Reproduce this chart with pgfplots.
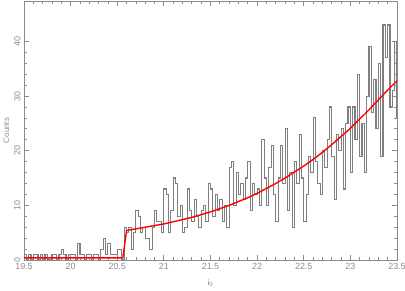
\documentclass[border=0pt]{standalone}
\usepackage{fontspec}
\setmainfont{Liberation Sans}
\usepackage{pgfplots}
\usepackage{pgfplotstable}
\pgfplotsset{compat=1.18}
\definecolor{axgray}{gray}{0.55}
\definecolor{histgray}{gray}{0.5}

\pgfplotstableread{
x y
19.500 1
19.525 0
19.550 1
19.575 0
19.600 1
19.625 1
19.650 0
19.675 1
19.700 0
19.725 1
19.750 0
19.775 0
19.800 1
19.825 1
19.850 0
19.875 1
19.900 2
19.925 1
19.950 0
19.975 1
20.000 1
20.025 1
20.050 0
20.075 3
20.100 1
20.125 1
20.150 0
20.175 1
20.200 1
20.225 0
20.250 1
20.275 1
20.300 0
20.325 2
20.350 4
20.375 1
20.400 3
20.425 1
20.450 1
20.475 1
20.500 2
20.525 2
20.550 0
20.575 6
20.600 5
20.625 6
20.650 2
20.675 5
20.700 9
20.725 8
20.750 5
20.775 6
20.800 4
20.825 4
20.850 2
20.875 6
20.900 9
20.925 7
20.950 7
20.975 5
21.000 13
21.025 12
21.050 5
21.075 9
21.100 15
21.125 14
21.150 8
21.175 10
21.200 5
21.225 6
21.250 13
21.275 9
21.300 7
21.325 11
21.350 8
21.375 6
21.400 9
21.425 10
21.450 7
21.475 14
21.500 13
21.525 8
21.550 12
21.575 9
21.600 11
21.625 7
21.650 10
21.675 6
21.700 17
21.725 18
21.750 10
21.775 16
21.800 12
21.825 14
21.850 11
21.875 15
21.900 18
21.925 9
21.950 14
21.975 12
22.000 13
22.025 10
22.050 22
22.075 15
22.100 10
22.125 17
22.150 21
22.175 12
22.200 7
22.225 15
22.250 21
22.275 14
22.300 24
22.325 9
22.350 16
22.375 6
22.400 18
22.425 14
22.450 23
22.475 15
22.500 7
22.525 12
22.550 19
22.575 16
22.600 26
22.625 18
22.650 14
22.675 12
22.700 20
22.725 17
22.750 22
22.775 28
22.800 19
22.825 11
22.850 23
22.875 20
22.900 24
22.925 13
22.950 25
22.975 28
23.000 16
23.025 28
23.050 22
23.075 34
23.100 19
23.125 25
23.150 16
23.175 30
23.200 39
23.225 27
23.250 33
23.275 24
23.300 36
23.325 19
23.350 43
23.375 37
23.400 43
23.425 28
23.450 31
23.475 40
23.500 26
}\hist

\begin{document}
\begin{tikzpicture}
\begin{axis}[
  at={(0,0)}, anchor=south west,
  scale only axis, width=373bp, height=259bp,
  xmin=19.5, xmax=23.5, ymin=0, ymax=47.4,
  xtick={19.5,20,20.5,21,21.5,22,22.5,23,23.5},
  ytick={0,10,20,30,40},
  minor x tick num=4, minor y tick num=4,
  tick align=inside,
  major tick length=5bp, minor tick length=2.7bp,
  axis line style={axgray, line width=0.8bp},
  every tick/.style={axgray, line width=0.8bp},
  ticklabel style={font=\fontsize{9}{10}\selectfont, text=axgray},
  /pgf/number format/assume math mode=true,
  yticklabel style={rotate=90, anchor=south},
  label style={font=\fontsize{8}{10}\selectfont, text=axgray},
  xlabel={i\textsubscript{0}},
  ylabel={Counts},
  xlabel style={yshift=-3bp},
  ylabel style={yshift=-2bp},
]
\addplot[const plot, histgray, line width=1.1bp] table {\hist};
\addplot[red, line width=1.4bp] coordinates {
(19.5,0.4) (20.56,0.4) (20.6,5.4) (20.7,5.7) (20.8,6.0) (20.9,6.3)
(21.0,6.6) (21.1,7.0) (21.2,7.4) (21.3,7.8) (21.4,8.3) (21.5,8.8)
(21.6,9.4) (21.7,10.0) (21.8,10.7) (21.9,11.4) (22.0,12.2) (22.1,13.1)
(22.2,14.0) (22.3,15.0) (22.4,16.1) (22.5,17.2) (22.6,18.4) (22.7,19.7)
(22.8,21.1) (22.9,22.6) (23.0,24.1) (23.1,25.8) (23.2,27.5) (23.3,29.3)
(23.4,31.1) (23.5,32.8)};
\end{axis}
\pgfresetboundingbox
\path (-24bp,-31bp) rectangle (381bp,260bp);
\end{tikzpicture}
\end{document}
